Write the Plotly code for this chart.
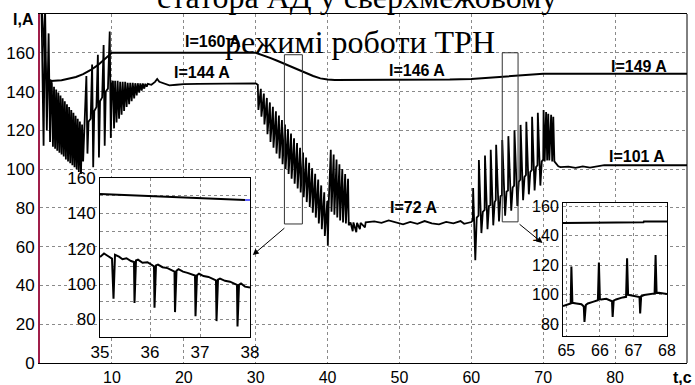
import plotly.graph_objects as go

# ---------------- data ----------------
upper_t = [0.2, 0.8, 1.0, 1.5, 3, 4, 5, 6, 7, 8, 9, 10, 30, 31, 32, 33, 34, 35, 36, 37, 38, 39, 40, 41,
           55, 57, 60, 62, 64, 66, 68, 70, 90]
upper_i = [185, 150, 147, 145.5, 145.8, 146.5, 147.5, 149, 151, 153.5, 156.5, 160, 160, 158.8, 157.4, 155.9,
           154.3, 152.6, 151, 149.5, 148, 146.8, 146.2, 146, 146, 146.2, 146.5, 147, 147.5, 148, 148.6, 149.2, 149.2]

lower_t = [0.20, 0.50, 0.70, 0.95, 1.20, 1.40, 1.55,
           1.65, 1.80, 1.95, 2.10, 2.25, 2.40, 2.55, 2.70, 2.85, 3.00, 3.15, 3.30, 3.45, 3.60, 3.75, 3.90,
           4.05, 4.20, 4.35, 4.50, 4.65, 4.80, 4.95, 5.10, 5.25, 5.40, 5.55, 5.70, 5.85, 6.00,
           6.20, 6.45, 6.60, 6.75, 7.05, 7.25, 7.40, 7.55, 7.85, 8.05, 8.20, 8.35, 8.65, 8.85, 9.00, 9.15,
           9.45, 9.70, 9.85, 10.00,
           10.15, 10.30, 10.45, 10.65, 10.80, 11.00, 11.15, 11.35, 11.50, 11.70, 11.85, 12.05, 12.20, 12.40,
           12.55, 12.75, 12.90, 13.10, 13.25, 13.45, 13.60, 13.80, 13.95, 14.15, 14.30, 14.50, 14.65, 14.85,
           15.00, 15.5, 16.0, 16.3, 16.6, 17.0, 17.5, 18.0, 19.0, 20.0, 22.0, 25.0, 30.0,
           30.30, 30.38, 30.72, 30.80, 31.14, 31.22, 31.56, 31.64, 31.98, 32.06, 32.40, 32.48, 32.82, 32.90,
           33.24, 33.32, 33.66, 33.74, 34.08, 34.16, 34.50, 34.58, 34.92, 35.00, 35.34, 35.42, 35.76, 35.84,
           36.18, 36.26, 36.60, 36.68, 37.02, 37.10, 37.44, 37.52, 37.86, 37.94, 38.28, 38.36, 38.70, 38.78,
           39.12, 39.20, 39.54, 39.62, 39.96, 40.04,
           40.15, 40.45, 40.55, 40.85, 40.95, 41.25, 41.35, 41.65, 41.75, 42.05, 42.15, 42.45, 42.55, 42.85,
           42.95, 43.2, 43.5, 43.6, 44.0, 44.1, 44.5, 44.6, 45.2, 45.3, 46.5, 47.5, 48.5, 49.5, 50.5, 51.5,
           52.5, 53.5, 54.5, 55.5, 56.5, 57.5, 58.5, 59.0, 59.8,
           60.00, 60.20, 60.25, 60.55, 60.75, 61.00, 61.05, 61.40, 61.60, 61.85, 61.90, 62.25, 62.45, 62.65,
           62.70, 63.05, 63.25, 63.40, 63.45, 63.85, 64.05, 64.25, 64.30, 64.70, 64.90, 65.10, 65.15, 65.55,
           65.75, 65.95, 66.00, 66.40, 66.60, 66.80, 66.85, 67.20, 67.40, 67.60, 67.65, 68.00, 68.20, 68.40,
           68.45, 68.80, 69.00, 69.20, 69.25, 69.60, 69.80, 70.00, 70.05, 70.20, 70.40, 70.55, 70.70, 70.85,
           71.10, 71.25, 71.40, 71.55, 71.80, 72.10, 72.40, 73.5, 74.5, 75.5, 76.5, 77.5, 78.5, 90.0]
lower_i = [185, 112, 185, 120, 170, 114, 146,
           144, 111.5, 142.5, 110.5, 141, 109.5, 139.5, 108.5, 138, 107.5, 136.5, 106.5, 135, 105, 133.5, 104,
           132, 103, 130.5, 102, 129, 101, 127.5, 100, 126, 98.5, 124.5, 97.5, 123, 104,
           123, 148, 108, 124.5, 126, 154, 101, 130, 132, 159, 106, 135, 137, 164, 112, 140,
           141.5, 171, 116, 144,
           145.5, 121, 145.5, 124, 145.5, 126, 145, 128, 145, 130, 145, 132, 144.5, 133.5,
           144.5, 135, 144.5, 136.5, 144.3, 138, 144.3, 139.5, 144.2, 140.5, 144.2, 141.5, 144, 142.5,
           144, 143.5, 145, 146.5, 145, 144.5, 143.5, 143.2, 143.5, 143.8, 144, 144.2, 144.2,
           143.5, 130.5, 141.4, 127, 139.0, 123, 136.7, 118, 134.4, 114, 132.1, 111, 129.8, 108,
           127.6, 105.5, 125.3, 102.5, 123.0, 100, 120.6, 97.5, 118.3, 95, 115.9, 92.5, 113.5, 90,
           111.0, 88, 108.5, 85.5, 106.0, 83, 103.3, 80.5, 100.5, 77.5, 97.6, 75, 94.6, 72,
           91.6, 69, 88.0, 65.5, 83.5, 60.5,
           81, 110, 78, 107.5, 76.5, 105, 75, 102.5, 73.5, 100, 72.5, 97.5, 72, 95,
           71, 72.5, 68, 72.5, 67.5, 72.3, 69, 72.3, 70, 72.5, 73, 72.3, 73.5, 72.5, 71.5, 72.8,
           71.8, 73.2, 72, 71.5, 72.8, 72, 73.2, 71.8, 72.5,
           72.7, 73.5, 90.3, 53, 75, 76, 104.7, 67, 78, 79, 107, 69, 81, 81.5,
           110, 71, 83, 84, 112.5, 73, 86, 86.5, 115, 76, 88.5, 89, 117, 78.5,
           90.5, 91.5, 120, 81, 93.5, 94.5, 122.8, 84, 96, 97, 124.4, 87, 98.5, 99.5,
           127, 89, 101, 102, 129, 91.5, 104, 105, 130.5, 104, 129.5, 104.5, 128.5, 104.5,
           128, 104, 127, 104, 103, 101.5, 101, 101.3, 100.6, 101.4, 100.8, 101.5, 102, 102]

# inset 1 (35 ... 38 s)
ins1_upper_t = [35.0, 35.5, 36.0, 36.5, 37.0, 37.5, 37.9]
ins1_upper_i = [150.9, 150.4, 149.8, 149.2, 148.6, 148.0, 147.6]
ins1_blue_t = [37.9, 38.0]
ins1_blue_i = [147.6, 147.5]
ins1_lower_t = [35.00, 35.08, 35.15, 35.24, 35.27, 35.30, 35.38, 35.45, 35.53, 35.62, 35.68, 35.69, 35.72,
                35.76, 35.85, 35.95, 36.05, 36.08, 36.09, 36.12, 36.16, 36.25, 36.35, 36.45, 36.49, 36.50,
                36.53, 36.57, 36.66, 36.75, 36.85, 36.90, 36.91, 36.94, 36.98, 37.07, 37.17, 37.27, 37.32,
                37.33, 37.36, 37.40, 37.50, 37.60, 37.70, 37.74, 37.75, 37.78, 37.82, 37.90, 38.00]
ins1_lower_i = [115.3, 117.3, 116.0, 114.4, 91.7, 116.5, 115.5, 114.0, 114.6, 113.0, 112.5, 89.3, 113.3,
                113.8, 112.0, 112.3, 110.5, 110.0, 86.6, 110.5, 111.0, 109.5, 109.0, 107.5, 107.0, 84.1,
                107.5, 108.4, 107.0, 106.3, 105.3, 104.8, 81.7, 105.0, 105.8, 104.5, 104.0, 102.7, 102.0,
                79.0, 102.5, 103.0, 101.8, 101.3, 100.3, 99.5, 76.0, 99.5, 100.3, 98.5, 98.0]

# inset 2 (65 ... 68 s)
ins2_upper_t = [64.9, 65.75, 65.76, 67.3, 67.31, 68.0]
ins2_upper_i = [148.8, 148.8, 149.3, 149.3, 149.7, 149.7]
ins2_lower_t = [64.90, 65.05, 65.13, 65.15, 65.18, 65.30, 65.45, 65.52, 65.54, 65.58, 65.64, 65.79, 65.94,
                65.97, 66.00, 66.04, 66.19, 66.36, 66.38, 66.41, 66.48, 66.68, 66.78, 66.81, 66.84, 66.87,
                67.02, 67.18, 67.20, 67.23, 67.32, 67.47, 67.63, 67.66, 67.69, 67.76, 67.96, 68.0]
ins2_lower_i = [92.3, 93.6, 94.1, 119.1, 94.5, 94.1, 93.6, 92.0, 81.6, 93.0, 94.1, 95.2, 96.3,
                121.8, 97.0, 96.8, 97.3, 95.6, 85.0, 96.0, 96.8, 98.2, 98.6, 124.8, 100.0, 99.8,
                99.1, 98.4, 87.3, 99.0, 99.8, 100.2, 100.9, 127.0, 101.2, 101.4, 100.5, 100.5]

# zoom windows marked on the main chart and their arrows
zoom_boxes = [(34.0, 36.5, 71.7, 159.0), (64.3, 66.5, 72.8, 160.0)]
arrows = [((34.2, 70.2), (29.6, 55.7)), ((66.5, 72.2), (69.9, 61.9))]

x_ticks = [10, 20, 30, 40, 50, 60, 70, 80]
y_ticks = [0, 20, 40, 60, 80, 100, 120, 140, 160]

labels = [("I=160 A", 24.0, 166.0), ("I=144 A", 22.6, 150.0), ("I=146 A", 52.5, 151.0),
          ("I=149 A", 83.3, 152.7), ("I=101 A", 83.0, 106.3), ("I=72 A", 52.0, 80.2)]
title_lines = ["статора АД у сверхмежовому", "режимі роботи ТРН"]

# ---------------- figure ----------------
SANS = "Liberation Sans, Arial, sans-serif"
SERIF = "Liberation Serif, Times New Roman, serif"
GRID = "#8a8a8a"
line = dict(color="black", width=2)

fig = go.Figure()
fig.add_trace(go.Scatter(x=upper_t, y=upper_i, mode="lines", line=line, xaxis="x", yaxis="y"))
fig.add_trace(go.Scatter(x=lower_t, y=lower_i, mode="lines", line=dict(color="black", width=1.8),
                         xaxis="x", yaxis="y"))
fig.add_trace(go.Scatter(x=ins1_upper_t, y=ins1_upper_i, mode="lines", line=line, xaxis="x2", yaxis="y2"))
fig.add_trace(go.Scatter(x=ins1_blue_t, y=ins1_blue_i, mode="lines", line=dict(color="#6060ff", width=2),
                         xaxis="x2", yaxis="y2"))
fig.add_trace(go.Scatter(x=ins1_lower_t, y=ins1_lower_i, mode="lines", line=line, xaxis="x2", yaxis="y2"))
fig.add_trace(go.Scatter(x=ins2_upper_t, y=ins2_upper_i, mode="lines", line=line, xaxis="x3", yaxis="y3"))
fig.add_trace(go.Scatter(x=ins2_lower_t, y=ins2_lower_i, mode="lines", line=line, xaxis="x3", yaxis="y3"))

W, H = 695, 385
L, R, T, B = 40, 8, 14, 22
pw, ph = W - L - R, H - T - B


def px_x(x):
    return (x - L) / pw


def px_y(y):
    return (H - B - y) / ph


axis_common = dict(showgrid=True, gridcolor=GRID, griddash="dot", gridwidth=1, zeroline=False,
                   ticks="", showline=True, linecolor="black", linewidth=1, mirror=True)

fig.update_layout(
    width=W, height=H, margin=dict(l=L, r=R, t=T, b=B, autoexpand=False),
    paper_bgcolor="white", plot_bgcolor="white", showlegend=False,
    xaxis=dict(axis_common, range=[0, 90], tickvals=x_ticks, domain=[0, 1],
               tickfont=dict(family=SANS, size=16, color="black")),
    yaxis=dict(axis_common, range=[0, 180], tickvals=y_ticks, domain=[0, 1], mirror=False,
               linecolor="#a01e4a", linewidth=2,
               tickfont=dict(family=SANS, size=17, color="black")),
    xaxis2=dict(axis_common, range=[35, 38], tickvals=[35, 36, 37, 38], anchor="y2",
                domain=[px_x(100), px_x(250)], tickfont=dict(family=SANS, size=17, color="black")),
    yaxis2=dict(axis_common, range=[70, 160], tickvals=[80, 100, 120, 140, 160], anchor="x2",
                domain=[px_y(337), px_y(178)], tickfont=dict(family=SANS, size=17, color="black"),
                minor=dict(tickvals=[90, 110, 130, 150], showgrid=True, gridcolor=GRID, griddash="dot")),
    xaxis3=dict(axis_common, range=[64.9, 68.0], tickvals=[65, 66, 67, 68], anchor="y3",
                domain=[px_x(563), px_x(667)], tickfont=dict(family=SANS, size=16, color="black")),
    yaxis3=dict(axis_common, range=[72, 162.3], tickvals=[80, 100, 120, 140, 160], anchor="x3",
                domain=[px_y(336), px_y(203)], tickfont=dict(family=SANS, size=16, color="black")),
)

shapes = [dict(type="line", xref="paper", yref="paper", x0=1, x1=1, y0=0, y1=1,
               line=dict(color="black", width=1))]
for (x0, x1, y0, y1) in zoom_boxes:
    shapes.append(dict(type="rect", xref="x", yref="y", x0=x0, x1=x1, y0=y0, y1=y1,
                       line=dict(color="#333333", width=1)))
fig.update_layout(shapes=shapes)

for (tail, tip) in arrows:
    fig.add_annotation(x=tip[0], y=tip[1], ax=tail[0], ay=tail[1], xref="x", yref="y", axref="x", ayref="y",
                       text="", showarrow=True, arrowhead=2, arrowsize=1.2, arrowwidth=1, arrowcolor="black")

for (txt, tx, ty) in labels:
    fig.add_annotation(x=tx, y=ty, xref="x", yref="y", text="<b>%s</b>" % txt, showarrow=False,
                       font=dict(family=SANS, size=16, color="black"))

fig.add_annotation(x=px_x(357), y=px_y(-3), xref="paper", yref="paper", text=title_lines[0],
                   showarrow=False, xanchor="center", yanchor="middle",
                   font=dict(family=SERIF, size=32, color="black"))
fig.add_annotation(x=px_x(360), y=px_y(42), xref="paper", yref="paper", text=title_lines[1],
                   showarrow=False, xanchor="center", yanchor="middle",
                   font=dict(family=SERIF, size=32, color="black"))
fig.add_annotation(x=px_x(36), y=px_y(20), xref="paper", yref="paper", text="<b>I,A</b>",
                   xanchor="right", yanchor="middle", showarrow=False,
                   font=dict(family=SANS, size=16, color="black"))
fig.add_annotation(x=px_x(682), y=px_y(378), xref="paper", yref="paper", text="<b>t,с</b>",
                   xanchor="center", yanchor="middle", showarrow=False,
                   font=dict(family=SANS, size=16, color="black"))

fig.write_html("out.html")
